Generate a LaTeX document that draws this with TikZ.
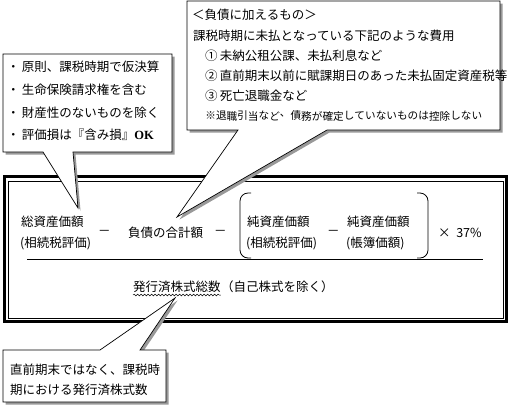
\documentclass[tikz,border=0pt]{standalone}
\usepackage{fontspec}
\setmainfont{Noto Sans CJK JP}
\newfontfamily\latinserif{Liberation Serif}
\usetikzlibrary{decorations.pathmorphing}
\newcommand{\FJ}{\fontsize{12.5}{15}\selectfont}
\newcommand{\FS}{\fontsize{10.6}{12}\selectfont}

\begin{document}
\begin{tikzpicture}[x=1pt,y=-1pt]
\tikzstyle{moji}=[draw=none,fill=none,black,font=\FJ,inner sep=0pt,anchor=west]
\tikzstyle{komoji}=[draw=none,fill=none,black,font=\FS,inner sep=0pt]
\tikzstyle{fuki}=[draw=black,fill=white,line width=0.7pt,line join=miter,
  preaction={fill=black!40,transform canvas={shift={(2.5pt,-2.5pt)}}}]
\tikzstyle{waku}=[black,line width=3pt]

\useasboundingbox (0,0) rectangle (510,405);

% frame
\draw[waku] (4.5,176.5) rectangle (506.5,321.5);
\draw[black,line width=0.8pt] (8.5,181) rectangle (503,318);

% numerator
\node[moji] (soshisan) at (21,222) {総資産価額};
\node[moji] (soshisan2) at (20,243) {(相続税評価)};
\node[moji] (minus1) at (98,233) {－};
\node[moji] (fusai) at (128,233) {負債の合計額};
\node[moji] (minus2) at (214,233) {－};
\node[moji] (jun1) at (247,222) {純資産価額};
\node[moji] (jun1b) at (246,243) {(相続税評価)};
\node[moji] (minus3) at (327,233) {－};
\node[moji] (jun2) at (347,222) {純資産価額};
\node[moji] (jun2b) at (346,243) {(帳簿価額)};
\node[moji] (ritsu) at (438,233) {×\ \ 37\%};

% brackets
\draw[black,line width=0.8pt,rounded corners=8pt] (251,193) -- (240,193) -- (240,258) -- (251,258);
\draw[black,line width=0.8pt,rounded corners=8pt] (417,193) -- (428,193) -- (428,258) -- (417,258);

% fraction bar
\draw[black,line width=0.8pt] (27,259) -- (483,259);

% denominator
\node[moji] (kabu) at (133,287) {発行済株式総数};
\node[moji] (jiko) at (kabu.east) {（自己株式を除く）};
\draw[black,line width=0.5pt,decorate,decoration={snake,amplitude=0.9pt,segment length=3.5pt}]
  ([yshift=-2pt]kabu.south west) -- ([yshift=-2pt]kabu.south east);

% callout 1
\coordinate (tip1) at (78,208);
\draw[fuki] (3,54) -- (172,54) -- (172,152) -- (73,152) -- (tip1) -- (43,152) -- (3,152) -- cycle;
\node[moji] (k1) at (7,67) {・\,原則、課税時期で仮決算};
\node[moji] (k2) at (7,90) {・\,生命保険請求権を含む};
\node[moji] (k3) at (7,113) {・\,財産性のないものを除く};
\node[moji] (k4) at (7,135) {・\,評価損は『含み損』{\latinserif\bfseries OK}};

% callout 2
\coordinate (tip2) at (177,217);
\draw[fuki] (187,1) -- (500,1) -- (500,130) -- (327,130) -- (tip2) -- (238,130) -- (187,130) -- cycle;
\node[moji] (f1) at (192,15) {＜負債に加えるもの＞};
\node[moji] (f2) at (193,36) {課税時期に未払となっている下記のような費用};
\node[moji] (f3) at (205,56) {①\,未納公租公課、未払利息など};
\node[moji] (f4) at (205,76) {②\,直前期末以前に賦課期日のあった未払固定資産税等};
\node[moji] (f5) at (205,96) {③\,死亡退職金など};
\foreach \c [count=\i] in {※,退,職,引,当,な,ど,、,債,務,が,確,定,し,て,い,な,い,も,の,は,控,除,し,な,い}
  \node[komoji] (f6-\i) at (200+\i*10.65,116) {\c};

% callout 3
\coordinate (tip3) at (175,298);
\draw[fuki] (3,350) -- (100,350) -- (tip3) -- (140,350) -- (166,350) -- (166,402) -- (3,402) -- cycle;
\node[moji] (c1) at (10,370) {直前期末ではなく、課税時};
\node[moji] (c2) at (10,390) {期における発行済株式数};
\end{tikzpicture}
\end{document}
